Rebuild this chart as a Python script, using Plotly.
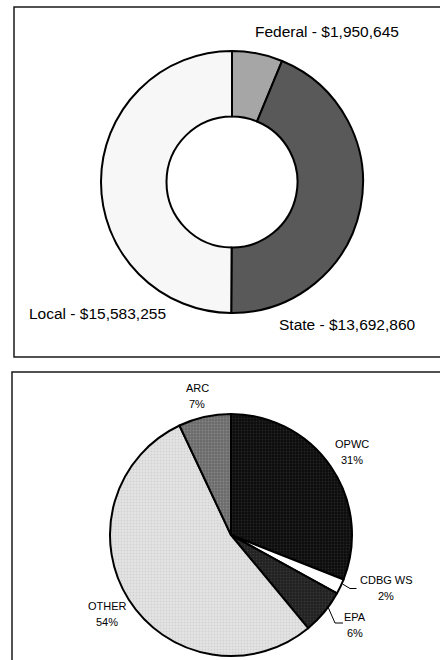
import plotly.graph_objects as go

W, H = 440, 660

# ---- data ----
src_labels = ["Federal", "State", "Local"]
src_values = [1950645, 13692860, 15583255]
src_colors = ["#a6a6a6", "#595959", "#f7f7f7"]

fund_labels = ["OPWC", "CDBG WS", "EPA", "OTHER", "ARC"]
fund_values = [31, 2, 6, 54, 7]
fund_bg = ["#0c0c0c", "#ffffff", "#202020", "#e4e4e4", "#6a6a6a"]
fund_fg = ["#242424", "#ffffff", "#363636", "#d2d2d2", "#868686"]


def px(x):
    return x / W


def py(y):
    return 1 - y / H


fig = go.Figure()

# donut
cx, cy, r = 232, 182, 131
fig.add_trace(go.Pie(
    labels=src_labels, values=src_values, hole=0.5, sort=False,
    direction="clockwise", rotation=0,
    marker=dict(colors=src_colors, line=dict(color="#000000", width=2)),
    textinfo="none", hoverinfo="label+value",
    domain=dict(x=[px(cx - r), px(cx + r)], y=[py(cy + r), py(cy - r)]),
    showlegend=False,
))

# pie
cx2, cy2, r2 = 231, 535, 121
fig.add_trace(go.Pie(
    labels=fund_labels, values=fund_values, sort=False,
    direction="clockwise", rotation=0,
    marker=dict(colors=fund_bg, line=dict(color="#000000", width=2),
                pattern=dict(shape=".", size=3, solidity=0.3,
                             bgcolor=fund_bg, fgcolor=fund_fg)),
    textinfo="none", hoverinfo="label+percent",
    domain=dict(x=[px(cx2 - r2), px(cx2 + r2)], y=[py(cy2 + r2), py(cy2 - r2)]),
    showlegend=False,
))

annos = []
font1 = dict(family="Liberation Sans, Arial, sans-serif", size=15.5, color="#000")
font2 = dict(family="Liberation Sans, Arial, sans-serif", size=11, color="#000")

src_pos = [(326.5, 31), (347.5, 324), (97, 313)]
for lab, val, (x, y) in zip(src_labels, src_values, src_pos):
    annos.append(dict(x=px(x), y=py(y), xref="paper", yref="paper",
                      text=f"{lab} - ${val:,}", showarrow=False,
                      xanchor="center", yanchor="middle", font=font1))

fund_pos = [(352, 444), (386, 580), (355, 617), (107, 606), (197, 388)]
for lab, val, (x, y) in zip(fund_labels, fund_values, fund_pos):
    annos.append(dict(x=px(x), y=py(y), xref="paper", yref="paper",
                      text=lab, showarrow=False,
                      xanchor="center", yanchor="middle", font=font2))
    annos.append(dict(x=px(x), y=py(y + 16), xref="paper", yref="paper",
                      text=f"{val}%", showarrow=False,
                      xanchor="center", yanchor="middle", font=font2))

shapes = [
    dict(type="rect", xref="paper", yref="paper",
         x0=px(14), x1=px(446), y0=py(357), y1=py(7),
         line=dict(color="#1a1a1a", width=1.5)),
    dict(type="rect", xref="paper", yref="paper",
         x0=px(12), x1=px(446), y0=py(668), y1=py(372),
         line=dict(color="#1a1a1a", width=1.5)),
]

# leader lines
leaders = [
    [(342.5, 584), (350, 588.5), (356.5, 588.5)],
    [(328, 607), (335, 623), (343, 623)],
]
for pts in leaders:
    path = "M " + " L ".join(f"{px(x)},{py(y)}" for x, y in pts)
    shapes.append(dict(type="path", xref="paper", yref="paper", path=path,
                       line=dict(color="#000", width=1)))

fig.update_layout(
    width=W, height=H,
    margin=dict(l=0, r=0, t=0, b=0),
    paper_bgcolor="white", plot_bgcolor="white",
    annotations=annos, shapes=shapes,
    showlegend=False,
)

fig.write_html(
    "out.html",
    config={"displayModeBar": False},
    post_script="document.body.style.margin='0';document.body.style.padding='0';"
                "document.documentElement.style.overflow='hidden';",
)
